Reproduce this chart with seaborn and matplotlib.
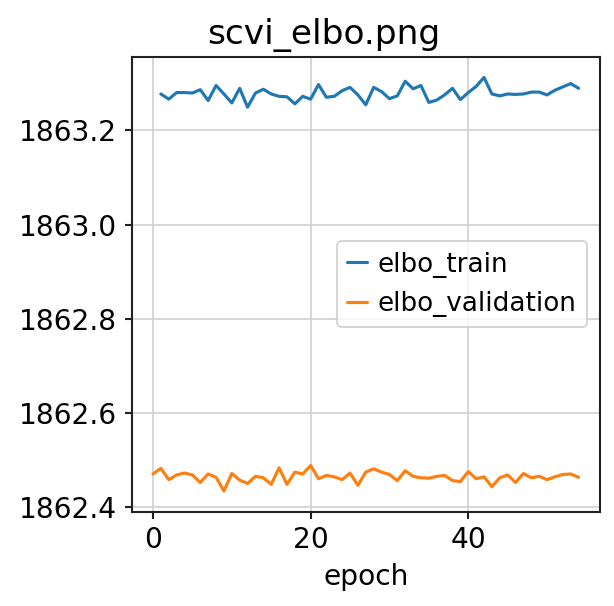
import matplotlib
matplotlib.use("Agg")
from matplotlib import pyplot as plt
import seaborn as sns
import pandas as pd
import numpy as np

# values
epochs_train = list(range(1, 55))
elbo_train = [
    1863.277, 1863.266, 1863.280, 1863.280, 1863.279, 1863.286, 1863.263, 1863.295, 1863.277, 1863.258,
    1863.289, 1863.249, 1863.279, 1863.287, 1863.277, 1863.272, 1863.271, 1863.256, 1863.272, 1863.266,
    1863.297, 1863.270, 1863.272, 1863.284, 1863.291, 1863.275, 1863.254, 1863.291, 1863.282, 1863.267,
    1863.273, 1863.304, 1863.288, 1863.295, 1863.259, 1863.264, 1863.275, 1863.289, 1863.265, 1863.280,
    1863.293, 1863.312, 1863.277, 1863.273, 1863.277, 1863.276, 1863.277, 1863.281, 1863.281, 1863.275,
    1863.285, 1863.292, 1863.299, 1863.289,
]
epochs_val = list(range(0, 55))
elbo_validation = [
    1862.471, 1862.483, 1862.459, 1862.469, 1862.473, 1862.469, 1862.453, 1862.471, 1862.464, 1862.435,
    1862.472, 1862.458, 1862.451, 1862.466, 1862.463, 1862.449, 1862.484, 1862.449, 1862.475, 1862.471,
    1862.489, 1862.461, 1862.468, 1862.465, 1862.459, 1862.473, 1862.447, 1862.475, 1862.482, 1862.475,
    1862.470, 1862.457, 1862.478, 1862.466, 1862.463, 1862.462, 1862.466, 1862.468, 1862.457, 1862.455,
    1862.476, 1862.461, 1862.465, 1862.444, 1862.463, 1862.469, 1862.453, 1862.472, 1862.463, 1862.466,
    1862.459, 1862.465, 1862.470, 1862.471, 1862.464,
]

df = pd.concat([
    pd.DataFrame({"epoch": epochs_train, "elbo": elbo_train, "series": "elbo_train"}),
    pd.DataFrame({"epoch": epochs_val, "elbo": elbo_validation, "series": "elbo_validation"}),
])

sns.set_style("whitegrid", {
    "axes.edgecolor": "#222222",
    "axes.labelcolor": "black",
    "text.color": "black",
    "xtick.color": "black",
    "ytick.color": "black",
    "grid.color": "#d0d0d0",
    "xtick.bottom": True,
    "ytick.left": True,
})
plt.rcParams["font.family"] = ["DejaVu Sans"]

fig = plt.figure(figsize=(614 / 150, 606 / 150), dpi=150)
ax = fig.add_axes([0.2145, 0.1556, 0.7625, 0.7508])
sns.lineplot(data=df, x="epoch", y="elbo", hue="series", estimator=None,
             palette=["#1f77b4", "#ff7f0e"], linewidth=1.5, ax=ax)

# title sits left of the axes centre in the original
ax.set_title("scvi_elbo.png", fontsize=16.5, x=0.41)
ax.set_xlabel("epoch", fontsize=13.5)
ax.set_ylabel("")
ax.tick_params(labelsize=13.5, length=3.5, width=1, color="#222222")
ax.set_xticks([0, 20, 40])
ax.set_yticks([1862.4, 1862.6, 1862.8, 1863.0, 1863.2])
ax.set_yticklabels(["1862.4", "1862.6", "1862.8", "1863.0", "1863.2"])
ax.set_xlim(-2.7, 56.7)
ax.set_ylim(1862.391, 1863.356)
for s in ax.spines.values():
    s.set_linewidth(1.0)
sns.move_legend(ax, "center right", title=None, fontsize=12.6, frameon=True,
                handlelength=0.75, handletextpad=0.4)

fig.savefig("out.png", dpi=150)
